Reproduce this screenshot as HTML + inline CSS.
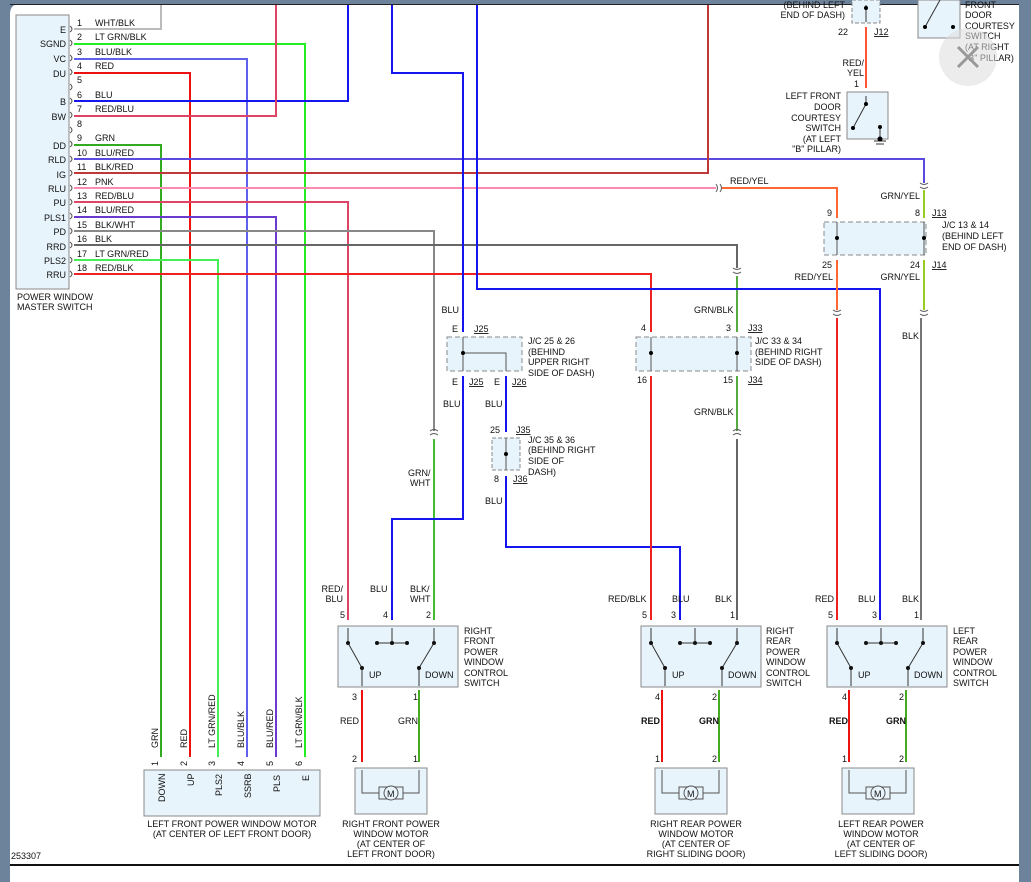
<!DOCTYPE html>
<html><head><meta charset="utf-8"><style>
html,body{margin:0;padding:0;background:#6d839c;}
svg{display:block;}
text{font-family:"Liberation Sans",sans-serif;font-size:9px;fill:#111;}
</style></head><body>
<svg width="1031" height="882" viewBox="0 0 1031 882" xmlns="http://www.w3.org/2000/svg">
<rect x="0" y="0" width="1031" height="882" fill="#6d839c"/>
<path d="M10 882 V14 Q10 4 20 4 H1019 V882 Z" fill="#fff"/>
<line x1="10" y1="4.5" x2="1019" y2="4.5" stroke="#222" stroke-width="1"/>
<line x1="10" y1="865" x2="1019" y2="865" stroke="#111" stroke-width="2"/>

<g fill="none" stroke-width="2">
<!-- master switch wires -->
<path d="M74 29 H161 V5" stroke="#bbb"/>
<path d="M74 44 H305 V757" stroke="#22ee22"/>
<path d="M74 59 H247 V757" stroke="#6060ee"/>
<path d="M74 73 H190 V757" stroke="#ee1111"/>
<path d="M74 101 H348 V5" stroke="#1515ee"/>
<path d="M74 116 H276 V5" stroke="#dd4466"/>
<path d="M74 145 H161 V757" stroke="#33aa22"/>
<path d="M74 159 H924 V183" stroke="#5a4ae0"/>
<path d="M74 173 H708 V5" stroke="#c03838"/>
<path d="M74 188 H716" stroke="#ff8ab0"/>
<path d="M722 188 H837 V218" stroke="#ff6633"/>
<path d="M74 202 H348 V620" stroke="#dd4466"/>
<path d="M74 217 H276 V757" stroke="#6a3ad0"/>
<path d="M74 231 H434 V431" stroke="#888"/>
<path d="M434 439 V620" stroke="#44bb33"/>
<path d="M74 245 H737 V268" stroke="#666"/>
<path d="M737 276 V332" stroke="#55aa44"/>
<path d="M74 260 H218 V757" stroke="#44ee55"/>
<path d="M74 274 H651 V332" stroke="#ee2222"/>
<!-- blues -->
<path d="M392 5 V73 H463 V332" stroke="#1515ee"/>
<path d="M463 376 V519 H392 V620" stroke="#1515ee"/>
<path d="M477 5 V289 H880 V620" stroke="#1515ee"/>
<path d="M506 376 V432" stroke="#1515ee"/>
<path d="M506 476 V547 H680 V620" stroke="#1515ee"/>
<path d="M651 376 V620" stroke="#ee2222"/>
<path d="M737 376 V431" stroke="#55aa44"/>
<path d="M737 439 V620" stroke="#666"/>
<path d="M924 190 V218" stroke="#99cc22"/>
<path d="M837 260 V310" stroke="#ff6633"/>
<path d="M837 318 V620" stroke="#ee2222"/>
<path d="M924 260 V310" stroke="#99cc22"/>
<path d="M921 318 V620" stroke="#777"/>
<path d="M866 27 V88" stroke="#ff5533"/>
<!-- switch to motor -->
<path d="M362 690 V762" stroke="#ee1111"/><path d="M419 690 V762" stroke="#44aa22"/>
<path d="M662 690 V762" stroke="#ee1111"/><path d="M719 690 V762" stroke="#44aa22"/>
<path d="M849 690 V762" stroke="#ee1111"/><path d="M906 690 V762" stroke="#44aa22"/>
</g>

<!-- connector chevrons -->
<g fill="none" stroke="#555" stroke-width="1">
<path d="M716 184 q3 4 0 8 M720 184 q3 4 0 8"/>
<path d="M920 183 q4 3 8 0 M920 187 q4 3 8 0"/>
<path d="M430 431 q4 -3 8 0 M430 435 q4 -3 8 0"/>
<path d="M733 268 q4 3 8 0 M733 272 q4 3 8 0"/>
<path d="M733 431 q4 -3 8 0 M733 435 q4 -3 8 0"/>
<path d="M833 310 q4 3 8 0 M833 314 q4 3 8 0"/>
<path d="M920 310 q4 3 8 0 M920 314 q4 3 8 0"/>
</g>

<!-- master switch box -->
<rect x="16" y="15" width="53" height="274" fill="#e8f4fc" stroke="#888"/>
<g fill="none" stroke="#555"><path d="M70 26 q4 3 0 6 M70 40 q4 3 0 6 M70 55 q4 3 0 6 M70 69 q4 3 0 6 M70 84 q4 3 0 6 M70 98 q4 3 0 6 M70 112 q4 3 0 6 M70 127 q4 3 0 6 M70 141 q4 3 0 6 M70 156 q4 3 0 6 M70 170 q4 3 0 6 M70 185 q4 3 0 6 M70 199 q4 3 0 6 M70 213 q4 3 0 6 M70 228 q4 3 0 6 M70 242 q4 3 0 6 M70 257 q4 3 0 6 M70 271 q4 3 0 6"/></g>
<g text-anchor="end">
<text x="66" y="33">E</text><text x="66" y="47">SGND</text><text x="66" y="62">VC</text><text x="66" y="77">DU</text>
<text x="66" y="105">B</text><text x="66" y="120">BW</text><text x="66" y="149">DD</text><text x="66" y="163">RLD</text>
<text x="66" y="178">IG</text><text x="66" y="192">RLU</text><text x="66" y="206">PU</text><text x="66" y="221">PLS1</text>
<text x="66" y="235">PD</text><text x="66" y="250">RRD</text><text x="66" y="264">PLS2</text><text x="66" y="278">RRU</text>
</g>
<g>
<text x="77" y="26">1</text><text x="95" y="26">WHT/BLK</text>
<text x="77" y="40">2</text><text x="95" y="40">LT GRN/BLK</text>
<text x="77" y="55">3</text><text x="95" y="55">BLU/BLK</text>
<text x="77" y="69">4</text><text x="95" y="69">RED</text>
<text x="77" y="83">5</text>
<text x="77" y="98">6</text><text x="95" y="98">BLU</text>
<text x="77" y="112">7</text><text x="95" y="112">RED/BLU</text>
<text x="77" y="127">8</text>
<text x="77" y="141">9</text><text x="95" y="141">GRN</text>
<text x="77" y="156">10</text><text x="95" y="156">BLU/RED</text>
<text x="77" y="170">11</text><text x="95" y="170">BLK/RED</text>
<text x="77" y="185">12</text><text x="95" y="185">PNK</text>
<text x="77" y="199">13</text><text x="95" y="199">RED/BLU</text>
<text x="77" y="213">14</text><text x="95" y="213">BLU/RED</text>
<text x="77" y="228">15</text><text x="95" y="228">BLK/WHT</text>
<text x="77" y="242">16</text><text x="95" y="242">BLK</text>
<text x="77" y="257">17</text><text x="95" y="257">LT GRN/RED</text>
<text x="77" y="271">18</text><text x="95" y="271">RED/BLK</text>
<text x="17" y="300">POWER WINDOW</text><text x="17" y="310">MASTER SWITCH</text>
</g>

<!-- top right items -->
<rect x="852" y="0" width="28" height="23" fill="#e8f4fc" stroke="#888" stroke-dasharray="4 2"/>
<line x1="866" y1="5" x2="866" y2="22" stroke="#333"/><circle cx="866" cy="8" r="2"/>
<text x="848" y="35" text-anchor="end">22</text><text x="874" y="35" text-decoration="underline">J12</text>
<text x="845" y="8" text-anchor="end">(BEHIND LEFT</text><text x="845" y="18" text-anchor="end">END OF DASH)</text>
<text x="864" y="66" text-anchor="end">RED/</text><text x="864" y="76" text-anchor="end">YEL</text><text x="859" y="87" text-anchor="end">1</text>
<rect x="847" y="92" width="41" height="47" fill="#e8f4fc" stroke="#888"/>
<path d="M866 96 V104 L853 128" stroke="#333" fill="none"/><circle cx="866" cy="104" r="2"/><circle cx="853" cy="128" r="2"/>
<path d="M880 127 V139 M874 141 H886 M876 144 H884" stroke="#333" fill="none"/><circle cx="880" cy="127" r="2"/><circle cx="880" cy="139" r="2.5"/>
<g text-anchor="end"><text x="841" y="99">LEFT FRONT</text><text x="841" y="110">DOOR</text><text x="841" y="121">COURTESY</text><text x="841" y="131">SWITCH</text><text x="841" y="142">(AT LEFT</text><text x="841" y="152">"B" PILLAR)</text></g>
<rect x="918" y="0" width="42" height="38" fill="#e8f4fc" stroke="#888"/>
<path d="M940 0 L925 27" stroke="#333"/><circle cx="925" cy="27" r="2"/><circle cx="953" cy="27" r="2"/>
<g><text x="965" y="8">FRONT</text><text x="965" y="18">DOOR</text><text x="965" y="29">COURTESY</text><text x="965" y="39">SWITCH</text><text x="965" y="50">(AT RIGHT</text><text x="965" y="61">"B" PILLAR)</text></g>
<circle cx="968" cy="57" r="29" fill="#ddd" opacity="0.55"/>
<path d="M958 47 L978 67 M978 47 L958 67" stroke="#999" stroke-width="3"/>

<text x="730" y="184">RED/YEL</text><text x="920" y="199" text-anchor="end">GRN/YEL</text>
<!-- J/C 13 & 14 -->
<rect x="824" y="222" width="102" height="33" fill="#e8f4fc" stroke="#888" stroke-dasharray="5 3"/>
<path d="M837 222 V255 M924 222 V255" stroke="#555"/><circle cx="837" cy="238" r="2"/><circle cx="924" cy="238" r="2"/>
<text x="832" y="216" text-anchor="end">9</text><text x="920" y="216" text-anchor="end">8</text><text x="932" y="216" text-decoration="underline">J13</text>
<text x="942" y="228">J/C 13 &amp; 14</text><text x="942" y="239">(BEHIND LEFT</text><text x="942" y="250">END OF DASH)</text>
<text x="832" y="268" text-anchor="end">25</text><text x="920" y="268" text-anchor="end">24</text><text x="932" y="268" text-decoration="underline">J14</text>
<text x="833" y="280" text-anchor="end">RED/YEL</text><text x="920" y="280" text-anchor="end">GRN/YEL</text>
<text x="902" y="339">BLK</text>

<!-- J/C 25 & 26 -->
<text x="459" y="313" text-anchor="end">BLU</text>
<rect x="447" y="337" width="75" height="34" fill="#e8f4fc" stroke="#888" stroke-dasharray="5 3"/>
<path d="M463 337 V371 M463 353 H506 V371" stroke="#555" fill="none"/><circle cx="463" cy="353" r="2"/>
<text x="452" y="332">E</text><text x="474" y="332" text-decoration="underline">J25</text>
<text x="452" y="385">E</text><text x="469" y="385" text-decoration="underline">J25</text><text x="494" y="385">E</text><text x="512" y="385" text-decoration="underline">J26</text>
<text x="528" y="344">J/C 25 &amp; 26</text><text x="528" y="355">(BEHIND</text><text x="528" y="365">UPPER RIGHT</text><text x="528" y="376">SIDE OF DASH)</text>
<text x="443" y="407">BLU</text><text x="485" y="407">BLU</text>
<!-- J/C 35 & 36 -->
<rect x="492" y="438" width="28" height="32" fill="#e8f4fc" stroke="#888" stroke-dasharray="4 2"/>
<line x1="506" y1="438" x2="506" y2="470" stroke="#555"/><circle cx="506" cy="454" r="2"/>
<text x="490" y="433">25</text><text x="516" y="433" text-decoration="underline">J35</text>
<text x="494" y="482">8</text><text x="513" y="482" text-decoration="underline">J36</text>
<text x="528" y="443">J/C 35 &amp; 36</text><text x="528" y="453">(BEHIND RIGHT</text><text x="528" y="464">SIDE OF</text><text x="528" y="475">DASH)</text>
<text x="485" y="504">BLU</text>
<text x="408" y="476">GRN/</text><text x="410" y="486">WHT</text>

<!-- J/C 33 & 34 -->
<text x="694" y="313">GRN/BLK</text>
<rect x="636" y="337" width="115" height="34" fill="#e8f4fc" stroke="#888" stroke-dasharray="5 3"/>
<path d="M651 337 V371 M737 337 V371" stroke="#555"/><circle cx="651" cy="353" r="2"/><circle cx="737" cy="353" r="2"/>
<text x="641" y="331">4</text><text x="726" y="331">3</text><text x="748" y="331" text-decoration="underline">J33</text>
<text x="637" y="383">16</text><text x="723" y="383">15</text><text x="748" y="383" text-decoration="underline">J34</text>
<text x="755" y="344">J/C 33 &amp; 34</text><text x="755" y="355">(BEHIND RIGHT</text><text x="755" y="365">SIDE OF DASH)</text>
<text x="694" y="415">GRN/BLK</text>

<!-- switches -->
<g id="sw">
<rect x="338" y="626" width="120" height="61" fill="#e8f4fc" stroke="#888"/>
<g stroke="#333" fill="none"><path d="M348 628 V643 L362 668 V686 M434 628 V643 L419 668 V686 M392 628 V643 M377 643 H407"/></g>
<g fill="#111"><circle cx="348" cy="643" r="2"/><circle cx="362" cy="668" r="2"/><circle cx="434" cy="643" r="2"/><circle cx="419" cy="668" r="2"/><circle cx="377" cy="643" r="2"/><circle cx="392" cy="643" r="2"/><circle cx="407" cy="643" r="2"/></g>
<text x="369" y="678">UP</text><text x="425" y="678">DOWN</text>
</g>
<g transform="translate(303,0)"><use href="#sw"/></g>
<g transform="translate(489,0)"><use href="#sw"/></g>

<text x="343" y="592" text-anchor="end">RED/</text><text x="343" y="602" text-anchor="end">BLU</text>
<text x="370" y="592">BLU</text><text x="410" y="592">BLK/</text><text x="410" y="602">WHT</text>
<text x="340" y="618">5</text><text x="383" y="618">4</text><text x="426" y="618">2</text>
<text x="464" y="634">RIGHT</text><text x="464" y="644">FRONT</text><text x="464" y="655">POWER</text><text x="464" y="665">WINDOW</text><text x="464" y="676">CONTROL</text><text x="464" y="686">SWITCH</text>
<text x="352" y="700">3</text><text x="413" y="700">1</text>
<text x="340" y="724">RED</text><text x="398" y="724">GRN</text>
<text x="352" y="762">2</text><text x="413" y="762">1</text>

<text x="608" y="602">RED/BLK</text><text x="672" y="602">BLU</text><text x="715" y="602">BLK</text>
<text x="642" y="618">5</text><text x="671" y="618">3</text><text x="730" y="618">1</text>
<text x="766" y="634">RIGHT</text><text x="766" y="644">REAR</text><text x="766" y="655">POWER</text><text x="766" y="665">WINDOW</text><text x="766" y="676">CONTROL</text><text x="766" y="686">SWITCH</text>
<text x="655" y="700">4</text><text x="712" y="700">2</text>
<text x="641" y="724" font-weight="bold">RED</text><text x="699" y="724" font-weight="bold">GRN</text>
<text x="655" y="762">1</text><text x="712" y="762">2</text>

<text x="815" y="602">RED</text><text x="858" y="602">BLU</text><text x="902" y="602">BLK</text>
<text x="828" y="618">5</text><text x="872" y="618">3</text><text x="914" y="618">1</text>
<text x="953" y="634">LEFT</text><text x="953" y="644">REAR</text><text x="953" y="655">POWER</text><text x="953" y="665">WINDOW</text><text x="953" y="676">CONTROL</text><text x="953" y="686">SWITCH</text>
<text x="842" y="700">4</text><text x="899" y="700">2</text>
<text x="829" y="724" font-weight="bold">RED</text><text x="886" y="724" font-weight="bold">GRN</text>
<text x="842" y="762">1</text><text x="899" y="762">2</text>

<!-- motors -->
<g id="mot">
<rect x="355" y="768" width="72" height="46" fill="#e8f4fc" stroke="#888"/>
<path d="M362 770 V793 H379 M403 793 H419 V770" stroke="#555" fill="none"/>
<rect x="379" y="787" width="24" height="12" fill="#e8f4fc" stroke="#555"/>
<circle cx="391" cy="793" r="7" fill="#e8f4fc" stroke="#555"/><text x="387" y="797" font-size="10">M</text>
</g>
<g transform="translate(300,0)"><use href="#mot"/></g>
<g transform="translate(487,0)"><use href="#mot"/></g>
<g text-anchor="middle">
<text x="391" y="827">RIGHT FRONT POWER</text><text x="391" y="837">WINDOW MOTOR</text><text x="391" y="847">(AT CENTER OF</text><text x="391" y="857">LEFT FRONT DOOR)</text>
<text x="696" y="827">RIGHT REAR POWER</text><text x="696" y="837">WINDOW MOTOR</text><text x="696" y="847">(AT CENTER OF</text><text x="696" y="857">RIGHT SLIDING DOOR)</text>
<text x="881" y="827">LEFT REAR POWER</text><text x="881" y="837">WINDOW MOTOR</text><text x="881" y="847">(AT CENTER OF</text><text x="881" y="857">LEFT SLIDING DOOR)</text>
<text x="232" y="827">LEFT FRONT POWER WINDOW MOTOR</text><text x="232" y="837">(AT CENTER OF LEFT FRONT DOOR)</text>
</g>

<!-- left front motor -->
<rect x="144" y="770" width="176" height="46" fill="#e8f4fc" stroke="#888"/>
<g font-size="9">
<text transform="translate(158,748) rotate(-90)">GRN</text><text transform="translate(187,748) rotate(-90)">RED</text>
<text transform="translate(215,748) rotate(-90)">LT GRN/RED</text><text transform="translate(244,748) rotate(-90)">BLU/BLK</text>
<text transform="translate(273,748) rotate(-90)">BLU/RED</text><text transform="translate(302,748) rotate(-90)">LT GRN/BLK</text>
<text transform="translate(158,766) rotate(-90)">1</text><text transform="translate(187,766) rotate(-90)">2</text><text transform="translate(215,766) rotate(-90)">3</text>
<text transform="translate(244,766) rotate(-90)">4</text><text transform="translate(273,766) rotate(-90)">5</text><text transform="translate(302,766) rotate(-90)">6</text>
<text transform="translate(165,802) rotate(-90)">DOWN</text><text transform="translate(194,786) rotate(-90)">UP</text>
<text transform="translate(222,796) rotate(-90)">PLS2</text><text transform="translate(251,798) rotate(-90)">SSRB</text>
<text transform="translate(280,792) rotate(-90)">PLS</text><text transform="translate(309,781) rotate(-90)">E</text>
</g>
<text x="11" y="859">253307</text>
</svg>
</body></html>
